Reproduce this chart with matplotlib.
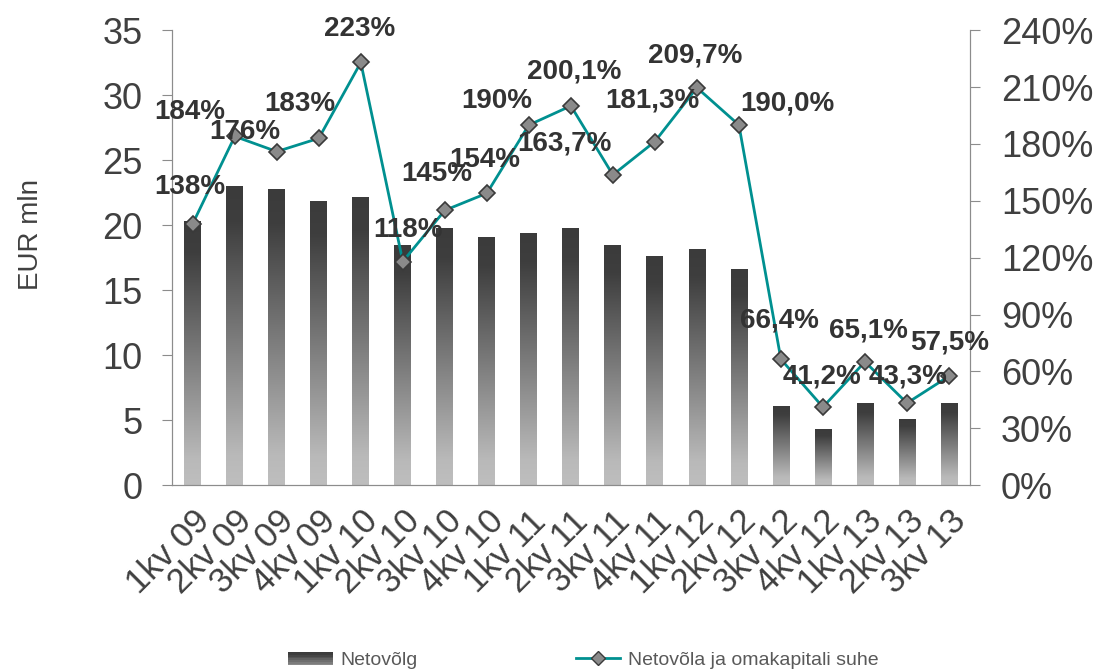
import numpy as np
import matplotlib.pyplot as plt
from matplotlib.colors import LinearSegmentedColormap
from matplotlib.legend_handler import HandlerBase
from matplotlib.patches import Rectangle
from matplotlib.lines import Line2D

plt.rcParams['font.family'] = ['Liberation Sans', 'DejaVu Sans']

# Data
quarters = ['1kv 09', '2kv 09', '3kv 09', '4kv 09', '1kv 10', '2kv 10', '3kv 10',
            '4kv 10', '1kv 11', '2kv 11', '3kv 11', '4kv 11', '1kv 12', '2kv 12',
            '3kv 12', '4kv 12', '1kv 13', '2kv 13', '3kv 13']
net_debt = [20.3, 23.0, 22.8, 21.9, 22.2, 18.5, 19.8, 19.1, 19.4, 19.8,
            18.5, 17.6, 18.2, 16.6, 6.1, 4.3, 6.3, 5.1, 6.3]
ratio = [138, 184, 176, 183, 223, 118, 145, 154, 190, 200.1,
         163.7, 181.3, 209.7, 190.0, 66.4, 41.2, 65.1, 43.3, 57.5]
ratio_labels = ['138%', '184%', '176%', '183%', '223%', '118%', '145%', '154%',
                '190%', '200,1%', '163,7%', '181,3%', '209,7%', '190,0%',
                '66,4%', '41,2%', '65,1%', '43,3%', '57,5%']

# label offsets in pixels (dx, dy)
label_offsets = [(-3, 37), (-45, 24), (-32, 20), (-19, 34), (-1, 33), (5, 32),
                 (-8, 36), (-2, 33), (-32, 24), (3, 34), (-48, 31), (-3, 41),
                 (-2, 32), (48, 22), (-1, 39), (-1, 31), (3, 31), (1, 27), (1, 34)]

text_col = '#404040'
spine_col = '#8c8c8c'
teal = '#009090'
grad = LinearSegmentedColormap.from_list(
    'g', [(0, '#bebebe'), (0.1, '#b9b9b9'), (0.88, '#3e3e3e'), (1, '#3b3b3b')])

fig = plt.figure(figsize=(11.01, 6.72), dpi=100)
ax = fig.add_axes([0.156, 0.278, 0.725, 0.677])
x = np.arange(len(quarters))
width = 0.4

bars = ax.bar(x, net_debt, width=width, color='#707070', zorder=1)
g = np.linspace(0, 1, 256).reshape(-1, 1)
for b in bars:
    im = ax.imshow(g, cmap=grad, origin='lower', aspect='auto',
                   extent=[b.get_x(), b.get_x() + b.get_width(), 0, b.get_height()],
                   zorder=2)
    im.set_clip_path(b)

ax.set_xlim(-0.5, len(quarters) - 0.5)
ax.set_ylim(0, 35)
ax.set_yticks(range(0, 36, 5))
ax.set_xticks(x)
ax.set_xticklabels(quarters, rotation=45, ha='right', rotation_mode='anchor')
ax.tick_params(axis='x', length=0, labelsize=25, labelcolor=text_col, pad=14)
ax.tick_params(axis='y', length=7.2, color=spine_col, labelsize=26,
               labelcolor=text_col, pad=14, direction='out')
ax.set_ylabel('EUR mln', fontsize=20, color=text_col)
ax.yaxis.set_label_coords(-0.160, 0.55)
ax.spines['top'].set_visible(False)
for s in ['left', 'right', 'bottom']:
    ax.spines[s].set_color(spine_col)

ax2 = ax.twinx()
ax2.plot(x, ratio, color=teal, lw=2, marker='D', ms=8, mfc='#8a8a8a',
         mec='#3a3a3a', mew=1.2, zorder=5)
ax2.set_ylim(0, 240)
ax2.set_yticks(range(0, 241, 30))
ax2.set_yticklabels([f'{v}%' for v in range(0, 241, 30)])
ax2.tick_params(axis='y', length=7.2, color=spine_col, labelsize=26,
                labelcolor=text_col, pad=15, direction='out')
ax2.spines['top'].set_visible(False)
for s in ['left', 'right', 'bottom']:
    ax2.spines[s].set_color(spine_col)

for xi, yi, lab, (dx, dy) in zip(x, ratio, ratio_labels, label_offsets):
    ax2.annotate(lab, (xi, yi), xytext=(dx, dy), textcoords='offset pixels',
                 ha='center', va='center', fontsize=20, fontweight='bold',
                 color='#333333', zorder=6)


class GradientHandler(HandlerBase):
    def create_artists(self, legend, orig_handle, xdescent, ydescent,
                       width, height, fontsize, trans):
        n = 8
        arts = []
        for i in range(n):
            c = grad(1 - i / (n - 1) * 0.6)
            arts.append(Rectangle((-xdescent, -ydescent + height * (n - 1 - i) / n),
                                  width, height / n, facecolor=c, edgecolor='none',
                                  transform=trans))
        return arts


line_handle = Line2D([], [], color=teal, lw=2, marker='D', ms=7,
                     mfc='#8a8a8a', mec='#3a3a3a')
bar_handle = Rectangle((0, 0), 1, 1)
fig.legend([bar_handle, line_handle], ['Netovõlg', 'Netovõla ja omakapitali suhe'],
           handler_map={Rectangle: GradientHandler()},
           loc='lower center', bbox_to_anchor=(0.53, -0.022), ncol=2,
           frameon=False, fontsize=14, labelcolor='#595959',
           columnspacing=8.1, handlelength=2.3, handletextpad=0.4)

fig.savefig('out.png', dpi=100)
